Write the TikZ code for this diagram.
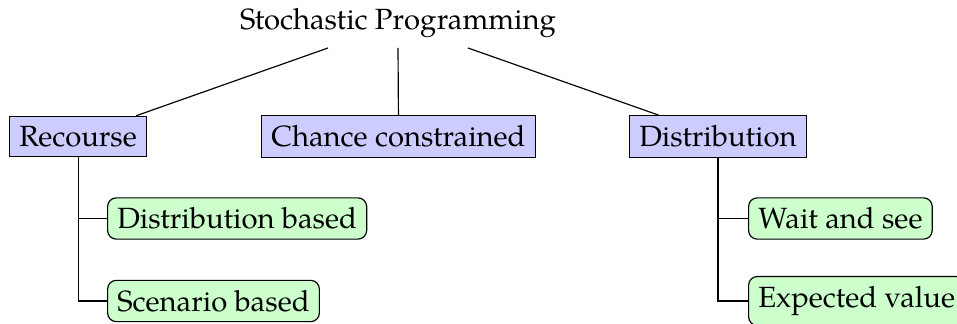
\documentclass[tikz,border=0pt]{standalone}
\usepackage{fontspec}
\setmainfont{TeX Gyre Pagella}
\usetikzlibrary{calc}
\begin{document}
\begin{tikzpicture}[x=0.3419pt,y=-0.3419pt,
  catbox/.style={draw=black, fill=blue!20, rectangle, anchor=west},
  subbox/.style={draw=black, fill=green!20, rounded corners=3pt, anchor=west},
  link/.style={draw=black, line width=0.4pt}]
\useasboundingbox (0,0) rectangle (957,324);

% root of the classification
\node[anchor=south] (root) at (398,48) {Stochastic Programming};

% main families
\node[catbox] (rec) at (9,136.5) {Recourse};
\node[catbox] (cc) at (261,136.5) {Chance constrained};
\node[catbox] (dist) at (629,136.5) {Distribution};

% sub-families
\node[subbox] (db) at (107,218.5) {Distribution based};
\node[subbox] (sb) at (107,301) {Scenario based};
\node[subbox] (ws) at (748,218.5) {Wait and see};
\node[subbox] (ev) at (748,301) {Expected value};

% edges from the root
\coordinate (rootL) at ($(root.south)+(-70,0)$);
\coordinate (rootR) at ($(root.south)+(70,0)$);
\coordinate (recTop) at ($(rec.north east)+(-11,0)$);
\coordinate (distTop) at ($(dist.north west)+(30,0)$);
\draw[link] (rootL) -- (recTop);
\draw[link] (root.south) -- (cc.north);
\draw[link] (rootR) -- (distTop);

% edges to the sub-families
\draw[link] (rec.south) |- (db.west);
\draw[link] (rec.south) |- (sb.west);
\draw[link] (dist.south) |- (ws.west);
\draw[link] (dist.south) |- (ev.west);
\end{tikzpicture}
\end{document}
